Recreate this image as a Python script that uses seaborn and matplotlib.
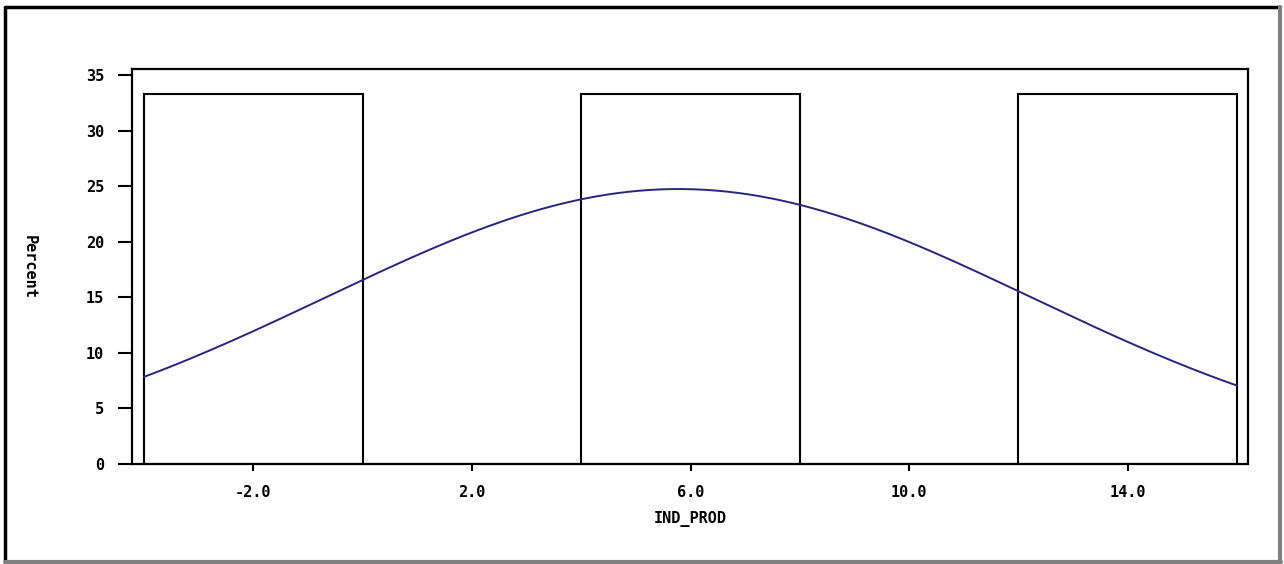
"""
Histogram of IND_PROD (percent per bin) with a fitted normal curve.
"""

import numpy as np
import matplotlib
matplotlib.use("Agg")
import matplotlib.pyplot as plt
from matplotlib.lines import Line2D
import seaborn as sns

# Data
bin_edges = [-4, 0, 4, 8, 12, 16]
bin_mids = [-2, 6, 14]
percents = [33.33, 33.33, 33.33]
x_ticks = [-2, 2, 6, 10, 14]
x_tick_labels = ["-2.0", "2.0", "6.0", "10.0", "14.0"]
y_ticks = [0, 5, 10, 15, 20, 25, 30, 35]

# Fitted normal curve parameters (scaled to percent per bin)
mu = 5.78
sigma = 6.45
bin_width = 4

sns.set_style("white")
plt.rcParams["font.family"] = ["DejaVu Sans Mono", "DejaVu Sans"]
plt.rcParams["font.weight"] = "bold"
plt.rcParams["text.color"] = "black"
plt.rcParams["axes.labelcolor"] = "black"

fig = plt.figure(figsize=(12.84, 5.64), dpi=100)
ax = fig.add_axes([132 / 1284, 1 - 464 / 564, 1116 / 1284, 395 / 564])

# Bars
sns.histplot(x=bin_mids, weights=percents, bins=bin_edges, stat="count",
             fill=False, color="black", linewidth=1.5, ax=ax)

# Normal curve
xs = np.linspace(bin_edges[0], bin_edges[-1], 400)
ys = 100 * bin_width * np.exp(-0.5 * ((xs - mu) / sigma) ** 2) / (sigma * np.sqrt(2 * np.pi))
sns.lineplot(x=xs, y=ys, color="#26267f", linewidth=1.4, ax=ax)

ax.set_xlim(-4.22, 16.2)
ax.set_ylim(0, 35.54)
ax.set_xticks(x_ticks)
ax.set_xticklabels(x_tick_labels)
ax.set_yticks(y_ticks)
ax.tick_params(axis="y", direction="out", length=10, width=1.5, pad=10,
               labelsize=11, left=True, colors="black")
ax.tick_params(axis="x", direction="out", length=5, width=1.5, pad=10,
               labelsize=11, bottom=True, colors="black")

for sp in ax.spines.values():
    sp.set_linewidth(1.6)
    sp.set_color("black")

ax.set_xlabel("IND_PROD", fontsize=11, fontweight="bold", labelpad=8)
ax.set_ylabel("Percent", fontsize=11, fontweight="bold", rotation=-90, va="center")
ax.yaxis.set_label_coords(-0.0923, 0.5)

# Outer frame: black top/left, grey bottom/right
fig.add_artist(Line2D([5 / 1284, 1280 / 1284], [1 - 7 / 564, 1 - 7 / 564],
                      transform=fig.transFigure, color="black", linewidth=2.5))
fig.add_artist(Line2D([5 / 1284, 5 / 1284], [1 - 7 / 564, 1 - 562 / 564],
                      transform=fig.transFigure, color="black", linewidth=2.5))
fig.add_artist(Line2D([1280 / 1284, 1280 / 1284], [1 - 7 / 564, 1 - 562 / 564],
                      transform=fig.transFigure, color="#808080", linewidth=3))
fig.add_artist(Line2D([5 / 1284, 1281 / 1284], [1 - 562 / 564, 1 - 562 / 564],
                      transform=fig.transFigure, color="#808080", linewidth=3))

fig.savefig("out.png", dpi=100)
